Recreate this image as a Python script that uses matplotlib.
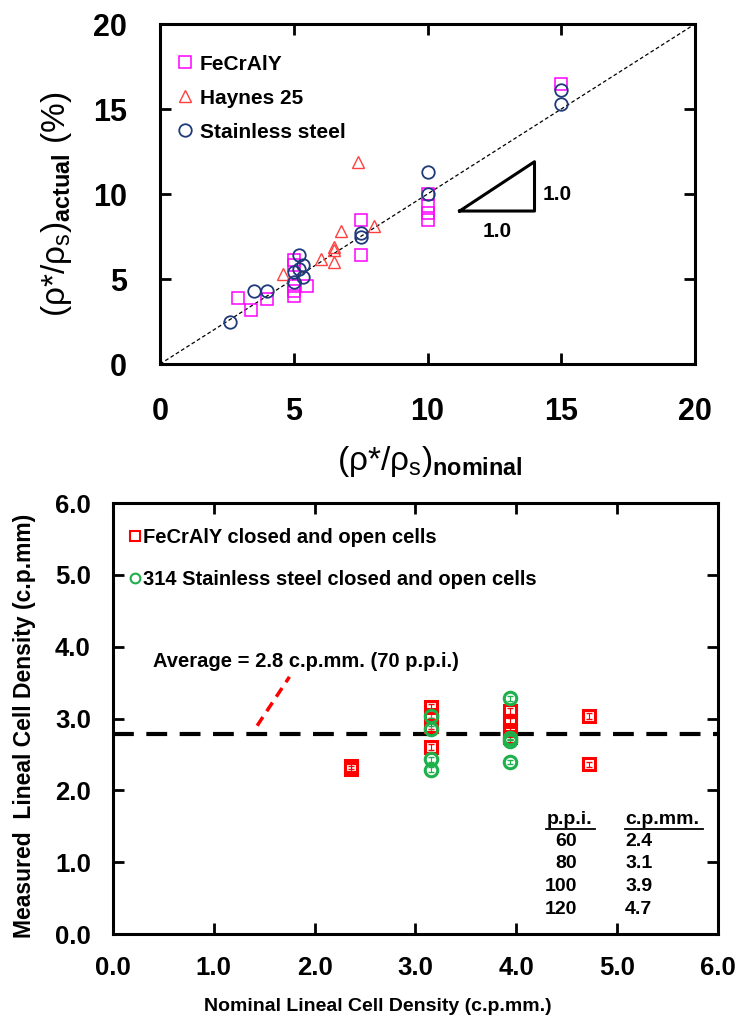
import numpy as np
import matplotlib
matplotlib.use("Agg")
import matplotlib.pyplot as plt
from matplotlib.lines import Line2D

plt.rcParams['font.family'] = ['Liberation Sans', 'DejaVu Sans']
plt.rcParams['mathtext.fontset'] = 'custom'
plt.rcParams['mathtext.rm'] = 'Liberation Sans'
plt.rcParams['mathtext.it'] = 'Liberation Sans:italic'
plt.rcParams['mathtext.bf'] = 'Liberation Sans:bold'

# ---- relative density: nominal vs actual (%) ----
fecraly_nom = [2.9, 3.4, 4.0, 5.0, 5.0, 5.0, 5.0, 5.0, 5.5, 7.5, 7.5, 10.0, 10.0, 10.0, 10.0, 15.0]
fecraly_act = [3.9, 3.2, 3.8, 6.1, 5.8, 4.6, 4.3, 4.0, 4.6, 8.5, 6.4, 10.0, 9.3, 8.9, 8.5, 16.5]

haynes_nom = [4.6, 6.0, 6.5, 6.5, 6.5, 6.75, 7.4, 8.0]
haynes_act = [5.3, 6.2, 6.7, 6.9, 6.0, 7.8, 11.9, 8.1]

ss_nom = [2.6, 3.5, 4.0, 5.0, 5.0, 5.2, 5.2, 5.35, 5.35, 7.5, 7.5, 10.0, 10.0, 15.0, 15.0]
ss_act = [2.5, 4.3, 4.3, 4.8, 5.4, 6.4, 5.6, 5.8, 5.1, 7.7, 7.5, 11.3, 10.0, 16.1, 15.3]

# ---- lineal cell density ----
fe_cells_x = [2.36, 2.36, 3.15, 3.15, 3.15, 3.15, 3.94, 3.94, 3.94, 3.94, 4.72, 4.72]
fe_cells_y = [2.30, 2.34, 3.16, 3.05, 2.90, 2.60, 3.10, 2.97, 2.84, 2.74, 3.04, 2.36]

ss_cells_x = [3.15, 3.15, 3.15, 3.15, 3.94, 3.94, 3.94, 3.94]
ss_cells_y = [3.04, 2.86, 2.43, 2.29, 3.28, 2.73, 2.69, 2.39]

avg_density = 2.78

ppi_vals = ['60', '80', '100', '120']
cpmm_vals = ['2.4', '3.1', '3.9', '4.7']

fig = plt.figure(figsize=(7.36, 10.22), dpi=100)

"""Top panel"""
ax1 = fig.add_axes([0.2174, 0.6438, 0.7269, 0.3327])
ax1.plot([0, 20], [0, 20], ls=(0, (3, 2)), color='black', lw=0.9, zorder=1)
ax1.plot(fecraly_nom, fecraly_act, ls='none', marker='s', ms=9, mfc='none',
         mec='#FF00FF', mew=1.1, label='FeCrAlY')
ax1.plot(haynes_nom, haynes_act, ls='none', marker='^', ms=9, mfc='none',
         mec='#FF4040', mew=1.0, label='Haynes 25')
ax1.plot(ss_nom, ss_act, ls='none', marker='o', ms=9, mfc='none',
         mec='#1F3A7A', mew=1.3, label='Stainless steel')

# slope triangle
ax1.plot([11.2, 14.0, 14.0, 11.2], [9.0, 9.0, 11.9, 9.0], color='black', lw=2.2)
ax1.text(12.6, 7.8, '1.0', fontsize=15, fontweight='bold', ha='center', va='center')
ax1.text(14.3, 10.0, '1.0', fontsize=15, fontweight='bold', ha='left', va='center')

ax1.set_xlim(0, 20)
ax1.set_ylim(0, 20)
ax1.set_xticks([0, 5, 10, 15, 20])
ax1.set_yticks([0, 5, 10, 15, 20])
ax1.tick_params(direction='in', length=8, width=2, top=True, right=True,
                labelsize=22, pad=24)
for lab in ax1.get_xticklabels() + ax1.get_yticklabels():
    lab.set_fontweight('bold')
for sp in ax1.spines.values():
    sp.set_linewidth(2.2)

ax1.set_xlabel(r'(ρ*/ρ$_\mathregular{s}$)$_\mathbf{nominal}$', fontsize=24)
ax1.set_ylabel(r'(ρ*/ρ$_\mathregular{s}$)$_\mathbf{actual}$ (%)', fontsize=24)
ax1.xaxis.set_label_coords(0.505, -0.235)
ax1.yaxis.set_label_coords(-0.16, 0.47)

leg1 = ax1.legend(loc='upper left', bbox_to_anchor=(0.0, 0.965), frameon=False,
                  numpoints=1, handlelength=0.6, handletextpad=0.4,
                  labelspacing=0.72, prop={'weight': 'bold', 'size': 15})

"""Bottom panel"""
ax2 = fig.add_axes([0.1535, 0.0861, 0.822, 0.4217])
ax2.axhline(avg_density, color='black', lw=3, ls=(0, (5, 3)), zorder=1)
ax2.errorbar(fe_cells_x, fe_cells_y, yerr=0.04, fmt='none', ecolor='#FF0000',
             elinewidth=0.8, capsize=2)
ax2.errorbar(ss_cells_x, ss_cells_y, yerr=0.03, fmt='none', ecolor='#1DB04B',
             elinewidth=0.8, capsize=2)
ax2.plot(fe_cells_x, fe_cells_y, ls='none', marker='s', ms=9, mfc='none',
         mec='#FF0000', mew=2.2)
ax2.plot(ss_cells_x, ss_cells_y, ls='none', marker='o', ms=9, mfc='none',
         mec='#1DB04B', mew=2.2)

ax2.plot([1.43, 1.75], [2.9, 3.58], color='#FF0000', lw=2.5, ls=(0, (3, 2)))
ax2.text(0.4, 3.79, 'Average = 2.8 c.p.mm. (70 p.p.i.)', fontsize=14.5,
         fontweight='bold', ha='left', va='center')

# ppi / c.p.mm. conversion table
ax2.text(4.53, 1.59, 'p.p.i.', fontsize=14, fontweight='bold', ha='center',
         va='center')
ax2.plot([4.29, 4.78], [1.46, 1.46], color='black', lw=1.3)
ax2.text(5.08, 1.59, 'c.p.mm.', fontsize=14, fontweight='bold', ha='left',
         va='center')
ax2.plot([5.08, 5.85], [1.46, 1.46], color='black', lw=1.3)
row_y = [1.29, 0.98, 0.66, 0.34]
for ry, p, c in zip(row_y, ppi_vals, cpmm_vals):
    ax2.text(4.6, ry, p, fontsize=14, fontweight='bold', ha='right', va='center')
    ax2.text(5.08, ry, c, fontsize=14, fontweight='bold', ha='left', va='center')

ax2.set_xlim(0, 6)
ax2.set_ylim(0, 6)
ax2.set_xticks(np.arange(0, 6.1, 1.0))
ax2.set_yticks(np.arange(0, 6.1, 1.0))
ax2.set_xticklabels(['%.1f' % v for v in np.arange(0, 6.1, 1.0)])
ax2.set_yticklabels(['%.1f' % v for v in np.arange(0, 6.1, 1.0)])
ax2.tick_params(direction='in', length=8, width=2, top=True, right=True,
                labelsize=18.5, pad=16)
for lab in ax2.get_xticklabels() + ax2.get_yticklabels():
    lab.set_fontweight('bold')
for sp in ax2.spines.values():
    sp.set_linewidth(2.2)

ax2.set_xlabel('Nominal Lineal Cell Density (c.p.mm.)', fontsize=14,
               fontweight='bold')
ax2.set_ylabel('Measured  Lineal Cell Density (c.p.mm)', fontsize=16.5,
               fontweight='bold')
ax2.xaxis.set_label_coords(0.438, -0.148)
ax2.yaxis.set_label_coords(-0.127, 0.483)

handles2 = [Line2D([], [], ls='none', marker='s', ms=7, mfc='none', mec='#FF0000', mew=1.5),
            Line2D([], [], ls='none', marker='o', ms=7, mfc='none', mec='#1DB04B', mew=1.5)]
ax2.legend(handles2, ['FeCrAlY closed and open cells',
                      '314 Stainless steel closed and open cells'],
           loc='upper left', bbox_to_anchor=(0.0, 0.985), frameon=False,
           numpoints=1, handlelength=0.4, handletextpad=0.2,
           labelspacing=1.15, prop={'weight': 'bold', 'size': 14.5})

fig.savefig('out.png', dpi=100)
